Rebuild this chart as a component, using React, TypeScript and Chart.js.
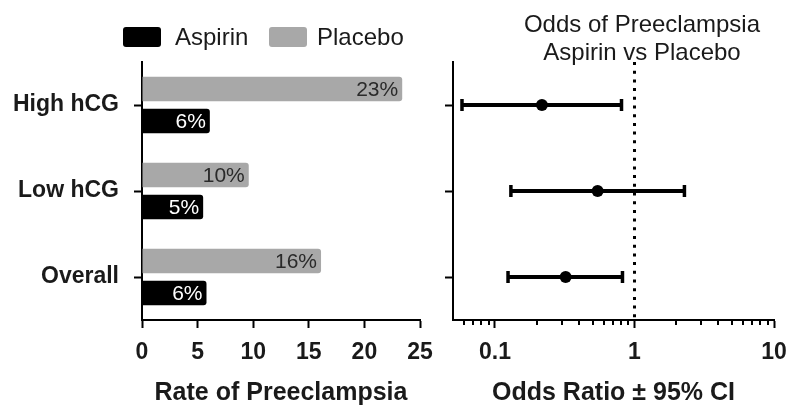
import React, { useEffect, useRef } from 'react';
import { Chart, registerables } from 'chart.js';

Chart.register(...registerables);

// ---- Data ----
const categories = ['High hCG', 'Low hCG', 'Overall'];
const aspirinRates = [6.1, 5.5, 5.8];
const placeboRates = [23.4, 9.6, 16.1];
const aspirinLabels = ['6%', '5%', '6%'];
const placeboLabels = ['23%', '10%', '16%'];

const oddsRatio = [0.217, 0.544, 0.321];
const ciLower = [0.058, 0.13, 0.124];
const ciUpper = [0.807, 2.28, 0.82];
const referenceOR = 1;
const majorOrTicks = [0.1, 1, 10];
const minorOrTicks = [0.06, 0.07, 0.08, 0.09, 0.2, 0.3, 0.4, 0.5, 0.6, 0.7, 0.8, 0.9, 2, 3, 4, 5, 6, 7, 8, 9];

const FONT = "'Liberation Sans', Arial, Helvetica, sans-serif";
const TEXT = '#1a1a1a';
const GRAY = '#a8a8a8';
const BLACK = '#000000';

Chart.defaults.font.family = FONT;
Chart.defaults.color = TEXT;

const barLabelPlugin = {
  id: 'barLabels',
  afterDatasetsDraw(chart: any) {
    const ctx = chart.ctx;
    ctx.save();
    ctx.font = `21px ${FONT}`;
    ctx.textAlign = 'right';
    ctx.textBaseline = 'middle';
    chart.data.datasets.forEach((ds: any, di: number) => {
      const meta = chart.getDatasetMeta(di);
      meta.data.forEach((el: any, i: number) => {
        ctx.fillStyle = ds.labelColor;
        ctx.fillText(ds.valueLabels[i], el.x - 4, el.y + 1);
      });
    });
    ctx.restore();
  },
};

const minorTickPlugin = {
  id: 'minorTicks',
  afterDraw(chart: any) {
    const scale = chart.scales.x;
    const ctx = chart.ctx;
    ctx.save();
    ctx.strokeStyle = BLACK;
    ctx.lineWidth = 2;
    const y0 = chart.chartArea.bottom;
    minorOrTicks.forEach((v) => {
      const x = Math.round(scale.getPixelForValue(v));
      ctx.beginPath();
      ctx.moveTo(x, y0);
      ctx.lineTo(x, y0 + 5);
      ctx.stroke();
    });
    ctx.restore();
  },
};

const fitX = (s: any) => {
  s.height = 99;
  s.paddingLeft = 0;
  s.paddingRight = 0;
};

function RateChart() {
  const ref = useRef<HTMLCanvasElement>(null);
  useEffect(() => {
    const chart = new Chart(ref.current as HTMLCanvasElement, {
      type: 'bar',
      data: {
        labels: categories,
        datasets: [
          {
            label: 'Placebo',
            data: placeboRates,
            backgroundColor: GRAY,
            borderRadius: 3,
            borderSkipped: 'start',
            valueLabels: placeboLabels,
            labelColor: '#2a2a2a',
          } as any,
          {
            label: 'Aspirin',
            data: aspirinRates,
            backgroundColor: BLACK,
            borderRadius: 3,
            borderSkipped: 'start',
            valueLabels: aspirinLabels,
            labelColor: '#ffffff',
          } as any,
        ],
      },
      options: {
        animation: false,
        responsive: false,
        indexAxis: 'y',
        categoryPercentage: 0.745,
        barPercentage: 0.77,
        layout: { padding: { top: 62, right: 20, bottom: 0, left: 0 } },
        plugins: { legend: { display: false }, tooltip: { enabled: false } },
        scales: {
          x: {
            type: 'linear',
            min: 0,
            max: 25,
            ticks: { stepSize: 5, font: { size: 23, weight: 'bold' }, color: TEXT, padding: 11 },
            grid: { drawOnChartArea: false, tickLength: 8, tickWidth: 2, tickColor: BLACK },
            border: { color: BLACK, width: 2 },
            title: {
              display: true,
              text: 'Rate of Preeclampsia',
              font: { size: 25, weight: 'bold' },
              color: TEXT,
              padding: { top: 0, bottom: 11 },
            },
            afterFit: fitX,
          },
          y: {
            type: 'category',
            ticks: { font: { size: 23, weight: 'bold' }, color: TEXT, padding: 15 },
            grid: { drawOnChartArea: false, offset: false, tickLength: 8, tickWidth: 2, tickColor: BLACK },
            border: { color: BLACK, width: 2 },
            afterFit: (s: any) => { s.width = 142; s.paddingTop = 0; s.paddingBottom = 0; },
          },
        },
      } as any,
      plugins: [barLabelPlugin],
    });
    return () => chart.destroy();
  }, []);
  return <canvas ref={ref} width={440} height={419} style={{ position: 'absolute', left: 0, top: 0, width: 440, height: 419 }} />;
}

function OddsChart() {
  const ref = useRef<HTMLCanvasElement>(null);
  useEffect(() => {
    const idx = categories.map((_, i) => i);
    const ciDatasets = idx.map((i) => ({
      label: 'CI ' + categories[i],
      data: [
        { x: ciLower[i], y: i },
        { x: ciUpper[i], y: i },
      ],
      showLine: true,
      borderColor: BLACK,
      borderWidth: 4,
      pointStyle: 'line',
      rotation: 90,
      pointRadius: 6,
      pointBorderWidth: 3.5,
      pointBorderColor: BLACK,
      pointBackgroundColor: BLACK,
    }));
    const chart = new Chart(ref.current as HTMLCanvasElement, {
      type: 'scatter',
      data: {
        datasets: [
          {
            label: 'Reference',
            data: [
              { x: referenceOR, y: -0.5 },
              { x: referenceOR, y: categories.length - 0.5 },
            ],
            showLine: true,
            borderColor: BLACK,
            borderWidth: 3,
            borderDash: [3, 5.7],
            pointRadius: 0,
          },
          ...ciDatasets,
          {
            label: 'Odds ratio',
            data: idx.map((i) => ({ x: oddsRatio[i], y: i })),
            pointRadius: 6,
            pointBackgroundColor: BLACK,
            pointBorderColor: BLACK,
            pointBorderWidth: 0,
          },
        ] as any,
      },
      options: {
        animation: false,
        responsive: false,
        layout: { padding: { top: 62, right: 26, bottom: 0, left: 0 } },
        plugins: { legend: { display: false }, tooltip: { enabled: false } },
        scales: {
          x: {
            type: 'logarithmic',
            min: 0.05,
            max: 10,
            afterBuildTicks: (s: any) => {
              s.ticks = majorOrTicks.map((v) => ({ value: v, major: true }));
            },
            ticks: {
              autoSkip: false,
              font: { size: 23, weight: 'bold' },
              color: TEXT,
              padding: 11,
              callback: (v: any) => String(v),
            },
            grid: { drawOnChartArea: false, tickLength: 8, tickWidth: 2, tickColor: BLACK },
            border: { color: BLACK, width: 2 },
            title: {
              display: true,
              text: 'Odds Ratio ± 95% CI',
              font: { size: 25, weight: 'bold' },
              color: TEXT,
              padding: { top: 0, bottom: 11 },
            },
            afterFit: fitX,
          },
          y: {
            type: 'linear',
            min: -0.5,
            max: categories.length - 0.5,
            reverse: true,
            afterBuildTicks: (s: any) => {
              s.ticks = idx.map((i) => ({ value: i }));
            },
            ticks: { display: false },
            grid: { drawOnChartArea: false, tickLength: 8, tickWidth: 2, tickColor: BLACK },
            border: { color: BLACK, width: 2 },
            afterFit: (s: any) => { s.width = 13; s.paddingTop = 0; s.paddingBottom = 0; },
          },
        },
      } as any,
      plugins: [minorTickPlugin],
    });
    return () => chart.destroy();
  }, []);
  return <canvas ref={ref} width={360} height={419} style={{ position: 'absolute', left: 440, top: 0, width: 360, height: 419 }} />;
}

const legendItems = [
  { label: 'Aspirin', color: BLACK, boxLeft: 123, textLeft: 175 },
  { label: 'Placebo', color: GRAY, boxLeft: 269, textLeft: 317 },
];

export default function App() {
  return (
    <div style={{ position: 'fixed', left: 0, top: 0, width: 800, height: 419, background: '#fff', overflow: 'hidden', fontFamily: FONT, color: TEXT }}>
      <RateChart />
      <OddsChart />
      {legendItems.map((it) => (
        <React.Fragment key={it.label}>
          <div style={{ position: 'absolute', left: it.boxLeft, top: 27, width: 38, height: 20, background: it.color, borderRadius: 3 }} />
          <div style={{ position: 'absolute', left: it.textLeft, top: 27, height: 20, lineHeight: '20px', fontSize: 24, whiteSpace: 'nowrap' }}>{it.label}</div>
        </React.Fragment>
      ))}
      <div style={{ position: 'absolute', left: 442, top: 9.5, width: 400, textAlign: 'center', fontSize: 24, lineHeight: '28px' }}>
        <div>Odds of Preeclampsia</div>
        <div>Aspirin vs Placebo</div>
      </div>
    </div>
  );
}
